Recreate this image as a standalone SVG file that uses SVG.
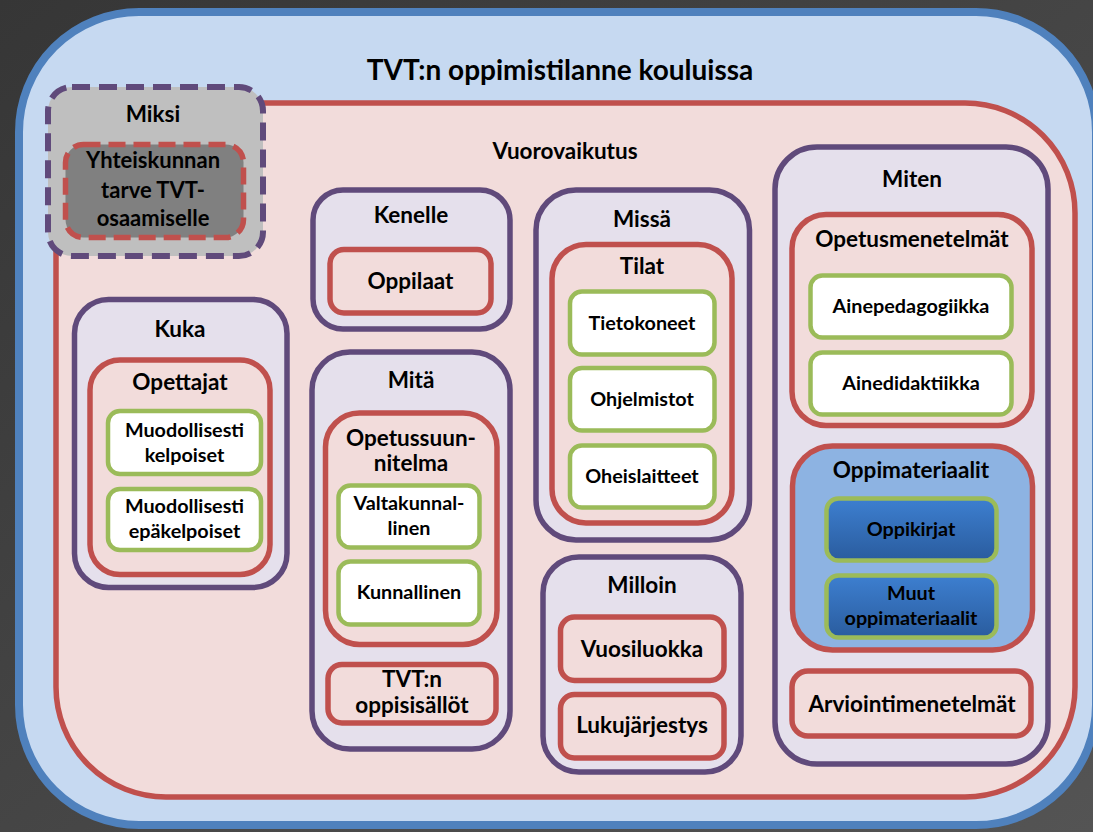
<svg xmlns="http://www.w3.org/2000/svg" width="1093" height="832" viewBox="0 0 1093 832">
<defs>
<linearGradient id="bg" x1="0" y1="0" x2="1" y2="1">
<stop offset="0" stop-color="#363636"/>
<stop offset="1" stop-color="#545454"/>
</linearGradient>
<linearGradient id="blueBtn" x1="0" y1="0" x2="0" y2="1">
<stop offset="0" stop-color="#3d7fd0"/>
<stop offset="1" stop-color="#2a5c9e"/>
</linearGradient>
<style>
text{font-family:Lato,"Liberation Sans",sans-serif;font-weight:bold;fill:#000;text-anchor:middle}
.t{font-size:28px}
.h{font-size:22.5px}
.m{font-size:22px}
.s{font-size:19.8px}
.purple{fill:#e5e0ec;stroke:#604a7b;stroke-width:5.5}
.red{fill:#f2dcdb;stroke:#c0504d;stroke-width:5.5}
.green{fill:#ffffff;stroke:#9bbb59;stroke-width:4.5}
.bgreen{fill:url(#blueBtn);stroke:#9bbb59;stroke-width:4.5}
</style>
</defs>
<rect width="1093" height="832" fill="url(#bg)"/>
<g id="outer">
<rect x="19" y="12" width="1077" height="813" rx="120" fill="#c6d9f1" stroke="#4f81bd" stroke-width="8"/>
<text class="t" x="560" y="80">TVT:n oppimistilanne kouluissa</text>
</g>
<g id="vuorovaikutus">
<rect x="56" y="103" width="1019" height="694" rx="110" fill="#f2dcdb" stroke="#c0504d" stroke-width="5.5"/>
<text class="h" x="565" y="159">Vuorovaikutus</text>
</g>
<g id="miksi">
<rect x="48" y="87" width="215" height="169" rx="24" fill="#bfbfbf" stroke="#604a7b" stroke-width="6" stroke-dasharray="18 9"/>
<text class="h" x="153" y="122">Miksi</text>
<rect x="65.5" y="144.5" width="178" height="93" rx="18" fill="#808080" stroke="#c0504d" stroke-width="5.5" stroke-dasharray="17 8"/>
<text class="m" x="153" y="168">Yhteiskunnan</text>
<text class="m" x="153" y="198">tarve TVT-</text>
<text class="m" x="153" y="226">osaamiselle</text>
</g>
<g id="kuka">
<rect class="purple" x="74.5" y="299.5" width="212.5" height="288" rx="34"/>
<text class="h" x="180" y="337">Kuka</text>
<rect class="red" x="90" y="360" width="180" height="214.5" rx="30"/>
<text class="h" x="180" y="390">Opettajat</text>
<rect class="green" x="108" y="411" width="153" height="63" rx="12"/>
<text class="s" x="184.5" y="437">Muodollisesti</text>
<text class="s" x="184.5" y="462">kelpoiset</text>
<rect class="green" x="108" y="489" width="153" height="61" rx="12"/>
<text class="s" x="184.5" y="513">Muodollisesti</text>
<text class="s" x="184.5" y="538">epäkelpoiset</text>
</g>
<g id="kenelle">
<rect class="purple" x="313" y="190" width="197" height="139" rx="30"/>
<text class="h" x="411" y="223">Kenelle</text>
<rect class="red" x="330" y="249.5" width="161" height="63.5" rx="14"/>
<text class="h" x="410.5" y="289">Oppilaat</text>
</g>
<g id="mita">
<rect class="purple" x="312" y="352" width="198" height="397" rx="38"/>
<text class="h" x="411" y="388">Mitä</text>
<rect class="red" x="325.5" y="413" width="171.5" height="231.5" rx="34"/>
<text class="h" x="411" y="446">Opetussuun-</text>
<text class="h" x="411" y="471">nitelma</text>
<rect class="green" x="338.5" y="485.5" width="141" height="62" rx="12"/>
<text class="s" x="409" y="510">Valtakunnal-</text>
<text class="s" x="409" y="535">linen</text>
<rect class="green" x="338.5" y="561.5" width="141" height="63" rx="12"/>
<text class="s" x="409" y="599">Kunnallinen</text>
<rect class="red" x="328" y="664.5" width="168" height="58.5" rx="14"/>
<text class="h" x="412" y="687">TVT:n</text>
<text class="h" x="412" y="713">oppisisällöt</text>
</g>
<g id="missa">
<rect class="purple" x="536" y="190" width="213.5" height="350" rx="40"/>
<text class="h" x="642" y="227">Missä</text>
<rect class="red" x="552" y="244.5" width="180" height="278.5" rx="34"/>
<text class="h" x="642" y="274">Tilat</text>
<rect class="green" x="570" y="291.5" width="144.5" height="63" rx="12"/>
<text class="s" x="642" y="330">Tietokoneet</text>
<rect class="green" x="570" y="368" width="144.5" height="62.5" rx="12"/>
<text class="s" x="642" y="406">Ohjelmistot</text>
<rect class="green" x="570" y="445.5" width="144.5" height="62" rx="12"/>
<text class="s" x="642" y="483">Oheislaitteet</text>
</g>
<g id="milloin">
<rect class="purple" x="543" y="557" width="198" height="215" rx="36"/>
<text class="h" x="642" y="593">Milloin</text>
<rect class="red" x="560.5" y="617" width="163.5" height="63.5" rx="14"/>
<text class="h" x="642" y="657">Vuosiluokka</text>
<rect class="red" x="560.5" y="694.5" width="163.5" height="63.5" rx="14"/>
<text class="h" x="642" y="733">Lukujärjestys</text>
</g>
<g id="miten">
<rect class="purple" x="775" y="147" width="273" height="617" rx="42"/>
<text class="h" x="912" y="187">Miten</text>
<rect class="red" x="792" y="214.5" width="240" height="211" rx="34"/>
<text class="h" x="912" y="247">Opetusmenetelmät</text>
<rect class="green" x="810.5" y="275.5" width="201" height="62" rx="12"/>
<text class="s" x="911" y="313">Ainepedagogiikka</text>
<rect class="green" x="810.5" y="352.5" width="201" height="62" rx="12"/>
<text class="s" x="911" y="390">Ainedidaktiikka</text>
<rect x="792.5" y="446" width="240" height="204" rx="40" fill="#8db3e2" stroke="#c0504d" stroke-width="5.5"/>
<text class="h" x="911" y="478">Oppimateriaalit</text>
<rect class="bgreen" x="826.5" y="498.5" width="170" height="62" rx="12"/>
<text class="s" x="911" y="536">Oppikirjat</text>
<rect class="bgreen" x="826.5" y="575.5" width="170" height="62" rx="12"/>
<text class="s" x="911" y="600">Muut</text>
<text class="s" x="911" y="625">oppimateriaalit</text>
<rect class="red" x="792" y="671" width="239" height="65" rx="16"/>
<text class="h" x="912" y="712">Arviointimenetelmät</text>
</g>
<g id="connectors"></g>
</svg>
